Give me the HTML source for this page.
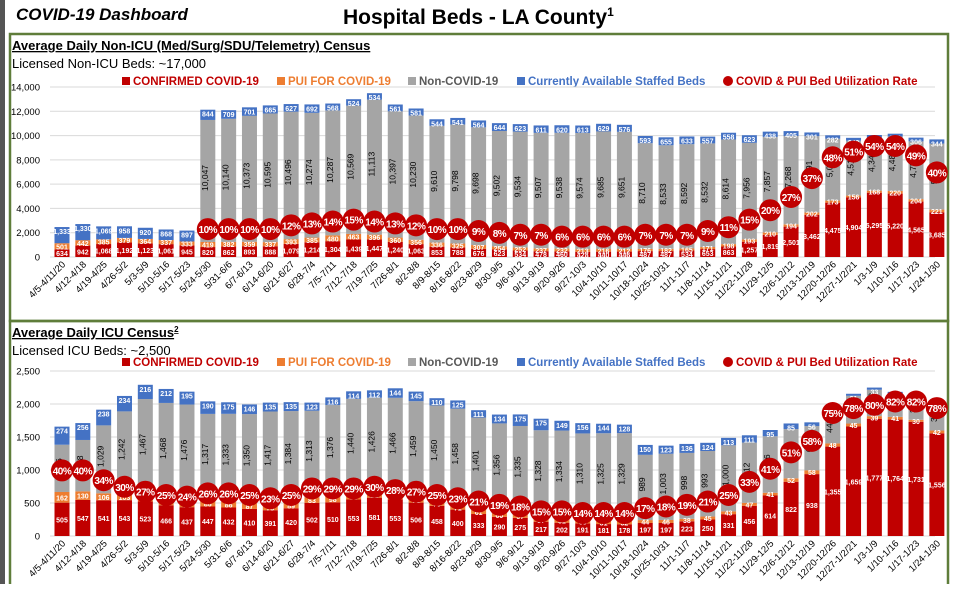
<!DOCTYPE html>
<html><head><meta charset="utf-8"><style>
body{margin:0;background:#fff;width:960px;height:584px;overflow:hidden;font-family:"Liberation Sans",sans-serif}
</style></head><body>
<svg id="s" width="960" height="584" xmlns="http://www.w3.org/2000/svg" font-family="Liberation Sans, sans-serif"></svg>
<script>
(function(){
const labels="4/5-4/11/20,4/12-4/18,4/19-4/25,4/26-5/2,5/3-5/9,5/10-5/16,5/17-5/23,5/24-5/30,5/31-6/6,6/7-6/13,6/14-6/20,6/21-6/27,6/28-7/4,7/5-7/11,7/12-7/18,7/19-7/25,7/26-8/1,8/2-8/8,8/9-8/15,8/16-8/22,8/23-8/29,8/30-9/5,9/6-9/12,9/13-9/19,9/20-9/26,9/27-10/3,10/4-10/10,10/11-10/17,10/18-10/24,10/25-10/31,11/1-11/7,11/8-11/14,11/15-11/21,11/22-11/28,11/29-12/5,12/6-12/12,12/13-12/19,12/20-12/26,12/27-1/2/21,1/3-1/9,1/10-1/16,1/17-1/23,1/24-1/30".split(",");
const topData=[[634,501,0,1333],[942,442,0,1330],[1068,385,0,1069],[1192,379,0,958],[1123,364,0,920],[1061,337,0,868],[945,333,0,897],
[820,419,10047,844,10],[862,382,10140,709,10],[893,359,10373,701,10],[888,337,10595,665,10],[1079,393,10496,627,12],[1214,385,10274,692,13],[1304,480,10287,568,14],[1439,463,10569,524,15],[1447,396,11113,534,14],[1240,360,10397,561,13],[1063,356,10230,581,12],[853,336,9610,544,10],[788,325,9798,541,10],[676,307,9698,564,9],[623,254,9502,644,8],[534,252,9534,623,7],[478,237,9507,611,7],[460,232,9538,620,6],[428,213,9574,613,6],[440,216,9685,629,6],[446,212,9651,576,6],[487,176,8710,593,7],[487,182,8533,655,7],[534,165,8592,633,7],[653,171,8532,557,9],[863,198,8614,558,11],[1257,193,7956,623,15],[1819,210,7857,438,20],[2501,194,7268,405,27],[3462,202,6291,301,37],[4475,173,5093,282,48],[4904,156,4514,240,51],[5295,168,4344,240,54],[5220,220,4485,229,54],[4565,204,4754,306,49],[3685,221,5434,344,40]];
const icu=[[505,162,716,274,40],[547,130,778,256,40],[541,106,1029,238,34],[543,103,1242,234,30],[523,85,1467,216,27],[466,82,1468,212,25],[437,79,1476,195,24],[447,86,1317,190,26],[432,86,1333,175,26],[410,87,1350,146,25],[391,78,1417,135,23],[420,89,1384,135,25],[502,83,1313,123,29],[510,98,1376,116,29],[553,85,1440,114,29],[581,88,1426,112,30],[553,75,1466,144,28],[506,78,1459,145,27],[458,70,1450,110,25],[400,71,1458,125,23],[333,61,1401,111,21],[290,60,1356,134,19],[275,57,1335,175,18],[217,57,1328,175,15],[202,61,1334,149,15],[191,53,1310,156,14],[181,51,1325,144,14],[178,52,1329,128,14],[197,44,989,150,17],[197,46,1003,123,18],[223,38,998,136,19],[250,45,993,124,21],[331,43,1000,113,25],[456,47,912,111,33],[614,41,856,95,41],[822,52,746,85,51],[938,58,670,56,58],[1355,48,443,29,75],[1659,45,420,31,78],[1777,39,400,33,80],[1764,41,340,39,82],[1731,30,330,40,82],[1556,42,381,59,78]];
let h='';
const fmt=n=>String(n).replace(/\B(?=(\d{3})+(?!\d))/g,',');
function t(x,y,s,o){h+='<text x="'+x+'" y="'+y+'" '+(o||'')+'>'+s+'</text>';}
h+='<rect x="0" y="0" width="5" height="584" fill="#555"/>';
h+='<rect x="10" y="34" width="938" height="287" fill="none" stroke="#5f7d3a" stroke-width="2.5"/>';
h+='<rect x="10" y="321" width="938" height="270" fill="none" stroke="#5f7d3a" stroke-width="2.5"/>';
t(16,20,'COVID-19 Dashboard','font-size="17" font-weight="bold" font-style="italic"');
h+='<text x="343" y="24" font-size="21" font-weight="bold">Hospital Beds - LA County<tspan font-size="12" dy="-8">1</tspan></text>';
function chart(d,y0,ymax,ppx,step,pct0,pslope,hy,title,sup,lic,legy){
 h+='<text x="12" y="'+hy+'" font-size="13" font-weight="bold" text-decoration="underline">'+title+(sup?'<tspan font-size="8" dy="-5">2</tspan>':'')+'</text>';
 t(12,hy+18,lic,'font-size="13"');
 const L=[[122,'#c00000','CONFIRMED COVID-19'],[277,'#ed7d31','PUI FOR COVID-19'],[408,'#a5a5a5','Non-COVID-19'],[517,'#4472c4','Currently Available Staffed Beds']];
 L.forEach(function(l){h+='<rect x="'+l[0]+'" y="'+(legy-8)+'" width="8" height="8" fill="'+l[1]+'"/>';t(l[0]+11,legy,l[2],'font-size="11.5" font-weight="bold" fill="'+(l[1]=='#a5a5a5'?'#595959':l[1])+'"');});
 h+='<circle cx="728" cy="'+(legy-4)+'" r="5" fill="#c00000"/>';t(736,legy,'COVID &amp; PUI Bed Utilization Rate','font-size="11.5" font-weight="bold" fill="#c00000"');
 for(let v=0;v<=ymax;v+=step){const y=y0-v*ppx;h+='<line x1="50" x2="935" y1="'+y+'" y2="'+y+'" stroke="#d9d9d9"/>';t(40,y+3.5,fmt(v),'font-size="9.5" text-anchor="end"');}
 d.forEach(function(r,i){const cx=62+i*20.83,x=cx-7.5,w=15;let y=y0;
  const cols=['#c00000','#ed7d31','#a5a5a5','#4472c4'];
  const segs=[];
  for(let k=0;k<4;k++){const hh=r[k]*ppx;if(hh>0){h+='<rect x="'+x+'" y="'+(y-hh)+'" width="'+w+'" height="'+hh+'" fill="'+cols[k]+'"/>';segs.push([k,y-hh,hh]);}y-=hh;}
  segs.forEach(function(s){const k=s[0],v=r[k],mid=s[1]+s[2]/2;
   if(k==2){t(cx+3,mid,fmt(v),'font-size="8.5" text-anchor="middle" transform="rotate(-90 '+cx+' '+mid+')"');}
   else{let yy=k==3?s[1]+7:mid+3;t(cx,yy,fmt(v),'font-size="7" font-weight="bold" fill="#fff" text-anchor="middle"');}
  });
  if(r[4]!==undefined){const py=pct0-pslope*r[4];h+='<circle cx="'+cx+'" cy="'+py+'" r="11" fill="#c00000"/>';t(cx,py+4,r[4]+'%','font-size="10" font-weight="bold" fill="#fff" text-anchor="middle" letter-spacing="-0.5"');}
  t(cx+4,y0+8,labels[i],'font-size="9.5" text-anchor="end" transform="rotate(-45 '+(cx+4)+' '+(y0+8)+')"');
 });
}
chart(topData,257,14000,170/14000,2000,248,1.89,50,'Average Daily Non-ICU (Med/Surg/SDU/Telemetry) Census',false,'Licensed Non-ICU Beds: ~17,000',85);
chart(icu,536,2500,165/2500,500,536,1.64,337,'Average Daily ICU Census',true,'Licensed ICU Beds: ~2,500',366);
document.getElementById('s').innerHTML=h;
})();
</script>
</body></html>
